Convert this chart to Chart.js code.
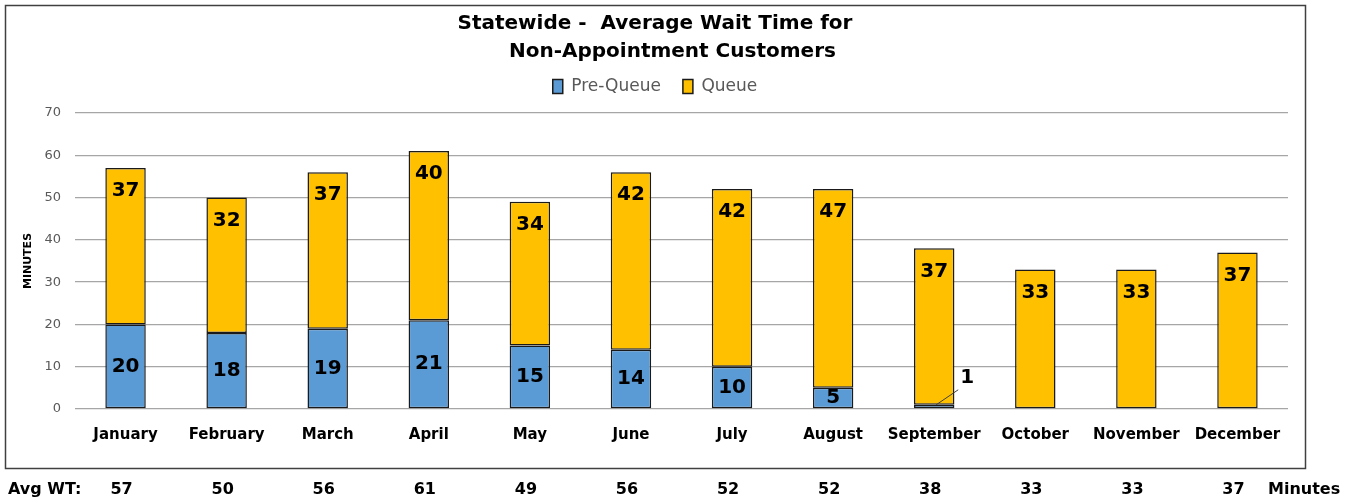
<!DOCTYPE html>
<html>
<head>
<meta charset="utf-8">
<script src="https://cdn.jsdelivr.net/npm/chart.js@4"></script>
<style>
  html, body { margin: 0; padding: 0; background: #fff; }
  #wrap { width: 1355px; height: 504px; }
</style>
</head>
<body>
<div id="wrap"><canvas id="waitChart" width="1355" height="504"></canvas></div>
<script>
const months = ['January', 'February', 'March', 'April', 'May', 'June', 'July', 'August', 'September', 'October', 'November', 'December'];
const preQueue = [20, 18, 19, 21, 15, 14, 10, 5, 1, null, null, null];
const queue = [37, 32, 37, 40, 34, 42, 42, 47, 37, 33, 33, 37];
const avgWT = [57, 50, 56, 61, 49, 56, 52, 52, 38, 33, 33, 37];
const yTicks = [0, 10, 20, 30, 40, 50, 60, 70];

const FONT = "'DejaVu Sans', sans-serif";

// white page + frame around the chart
const frame = {
  id: 'frame',
  beforeDraw(chart) {
    const c = chart.ctx;
    c.save();
    c.fillStyle = '#fff';
    c.fillRect(0, 0, chart.width, chart.height);
    c.strokeStyle = '#404040';
    c.lineWidth = 1.5;
    c.strokeRect(5.5, 5.5, 1300, 463);
    c.restore();
  }
};

// value labels inside bars, the tiny one gets a leader line
const barLabels = {
  id: 'barLabels',
  afterDatasetsDraw(chart) {
    const c = chart.ctx;
    c.save();
    c.font = 'bold 20px ' + FONT;
    c.fillStyle = '#000';
    c.textAlign = 'center';
    c.textBaseline = 'middle';
    chart.data.datasets.forEach((ds, di) => {
      chart.getDatasetMeta(di).data.forEach((bar, i) => {
        const v = ds.data[i];
        if (v == null) return;
        if (di === 1) {
          c.fillText(v, bar.x, bar.y + 23);
        } else if (v < 3) {
          c.strokeStyle = '#404040';
          c.lineWidth = 1;
          c.beginPath();
          c.moveTo(bar.x + 2, bar.y);
          c.lineTo(bar.x + 24, bar.y - 15);
          c.stroke();
          c.fillText(v, bar.x + 33, bar.y - 27);
        } else {
          c.fillText(v, bar.x, (bar.y + bar.base) / 2);
        }
      });
    });
    c.restore();
  }
};

// "Avg WT:" row under the frame
const avgRow = {
  id: 'avgRow',
  afterDraw(chart) {
    const c = chart.ctx;
    const x = chart.scales.x;
    c.save();
    c.font = 'bold 16px ' + FONT;
    c.fillStyle = '#000';
    c.textBaseline = 'middle';
    c.textAlign = 'left';
    c.fillText('Avg WT:', 8, 490);
    c.textAlign = 'center';
    avgWT.forEach((v, i) => c.fillText(v, x.getPixelForValue(i) - 4, 490));
    c.textAlign = 'left';
    c.fillText('Minutes', 1268, 490);
    c.restore();
  }
};

new Chart(document.getElementById('waitChart'), {
  type: 'bar',
  data: {
    labels: months,
    datasets: [
      {
        label: 'Pre-Queue',
        data: preQueue,
        backgroundColor: '#5B9BD5',
        borderColor: '#1a1a1a',
        borderWidth: 1.5,
        borderSkipped: false
      },
      {
        label: 'Queue',
        data: queue,
        backgroundColor: '#FFC000',
        borderColor: '#1a1a1a',
        borderWidth: 1.5,
        borderSkipped: false
      }
    ]
  },
  options: {
    responsive: false,
    animation: false,
    categoryPercentage: 1,
    barPercentage: 0.4,
    layout: { padding: { top: 10, right: 67, bottom: 36, left: 22 } },
    plugins: {
      title: {
        display: true,
        text: ['Statewide -  Average Wait Time for', '     Non-Appointment Customers'],
        color: '#000',
        font: { family: FONT, size: 20, weight: 'bold', lineHeight: 1.4 },
        padding: { top: 0, bottom: -10 }
      },
      legend: {
        labels: {
          color: '#595959',
          font: { family: FONT, size: 17 },
          boxWidth: 10,
          boxHeight: 14,
          padding: 22
        }
      },
      tooltip: { enabled: false }
    },
    scales: {
      x: {
        stacked: true,
        grid: { display: false },
        border: { display: false },
        ticks: { color: '#000', font: { family: FONT, size: 15, weight: 'bold' }, padding: 9, maxRotation: 0, autoSkip: false },
        afterFit(s) { s.height = 59; }
      },
      // empty spacer between legend and plot
      xTop: {
        type: 'category',
        position: 'top',
        grid: { display: false },
        border: { display: false },
        ticks: { display: false },
        afterFit(s) { s.height = 8; }
      },
      y: {
        stacked: true,
        min: 0,
        max: 70,
        afterBuildTicks(s) { s.ticks = yTicks.map(v => ({ value: v })); },
        grid: { color: '#A6A6A6', lineWidth: 1.3, drawTicks: false },
        border: { display: false },
        ticks: { color: '#595959', font: { family: FONT, size: 13 }, padding: 14 },
        title: { display: true, text: 'MINUTES', color: '#000', font: { family: FONT, size: 11, weight: 'bold' }, padding: 0 },
        afterFit(s) { s.width = 53; }
      }
    }
  },
  plugins: [frame, barLabels, avgRow]
});
</script>
</body>
</html>
